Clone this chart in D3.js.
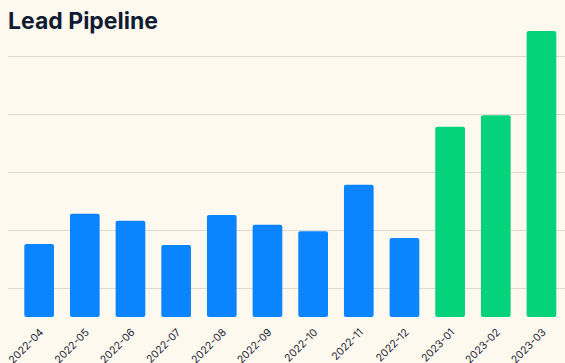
<!DOCTYPE html>
<html>
<head>
<meta charset="utf-8">
<script src="https://cdn.jsdelivr.net/npm/d3@7"></script>
<style>
  html, body { margin: 0; padding: 0; background: #fdf9ef; }
  svg { display: block; }
</style>
</head>
<body>
<div id="chart"></div>
<script>
var months = ['2022-04', '2022-05', '2022-06', '2022-07', '2022-08', '2022-09',
              '2022-10', '2022-11', '2022-12', '2023-01', '2023-02', '2023-03'];
var leads = [126, 178, 166, 124, 176, 159, 148, 228, 136, 328, 348, 493];
var gridTicks = [50, 150, 250, 350, 450];
var newSeriesStart = '2023-01';

var width = 565,
    height = 363;

var svg = d3.select('#chart').append('svg')
  .attr('width', width)
  .attr('height', height);

svg.append('rect')
  .attr('width', width)
  .attr('height', height)
  .attr('fill', '#fdf9ef');

var x = d3.scaleBand()
  .domain(months)
  .range([16.3, 564.3])
  .paddingInner(0.35)
  .paddingOuter(0.175);

var y = d3.scaleLinear()
  .domain([0, 500])
  .range([317, 27]);

// grid
svg.append('g')
  .attr('class', 'grid')
  .attr('transform', 'translate(8,0)')
  .call(d3.axisLeft(y).tickValues(gridTicks).tickSize(-(width - 8)).tickFormat(''))
  .call(function (g) {
    g.select('.domain').remove();
    g.selectAll('line').attr('stroke', '#dedad2').attr('stroke-width', 1);
  });

// bars
svg.append('g')
  .selectAll('rect')
  .data(months)
  .enter()
  .append('rect')
  .attr('x', function (d) { return x(d); })
  .attr('y', function (d, i) { return y(leads[i]); })
  .attr('width', x.bandwidth())
  .attr('height', function (d, i) { return y(0) - y(leads[i]); })
  .attr('rx', 2)
  .attr('fill', function (d) { return d >= newSeriesStart ? '#04d37b' : '#0a84ff'; });

// x labels
var xAxis = svg.append('g')
  .attr('transform', 'translate(0,' + y(0) + ')')
  .call(d3.axisBottom(x).tickSize(0).tickPadding(0));

xAxis.select('.domain').remove();
xAxis.selectAll('text')
  .attr('font-family', 'Inter, sans-serif')
  .attr('font-size', 10.5)
  .attr('fill', '#1c2333')
  .attr('text-anchor', 'end')
  .attr('dy', null)
  .attr('y', 0)
  .attr('transform', 'translate(5,16) rotate(-45)');

// title
svg.append('text')
  .attr('x', 8)
  .attr('y', 29)
  .attr('font-family', 'Inter, sans-serif')
  .attr('font-weight', 700)
  .attr('font-size', 23)
  .attr('fill', '#111c33')
  .text('Lead Pipeline');
</script>
</body>
</html>
